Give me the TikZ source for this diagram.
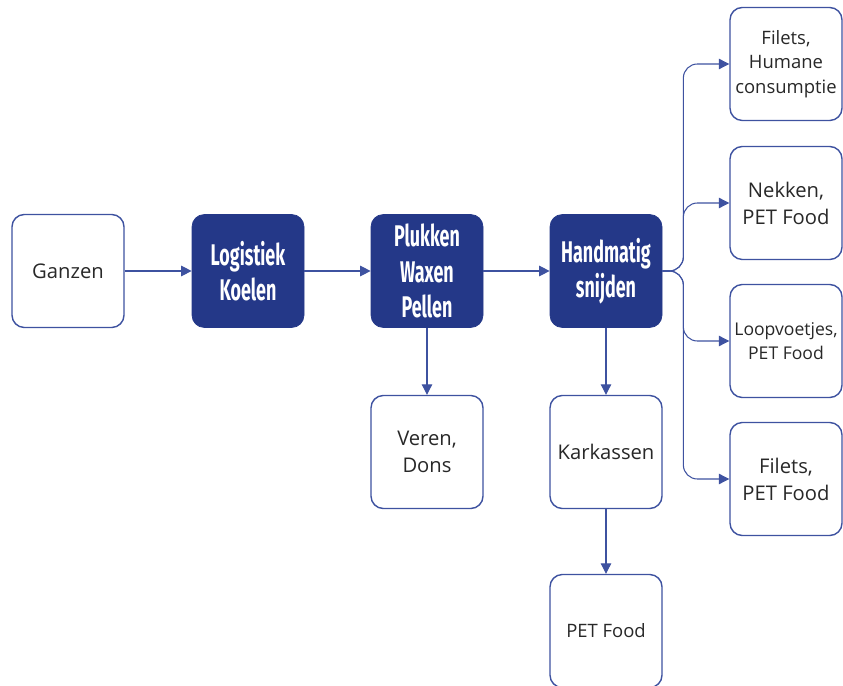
\documentclass[tikz,border=0pt]{standalone}
\usepackage{fontspec}
\setmainfont{Open Sans}
\newfontfamily\condfont[FakeStretch=0.6]{Fira Sans}
\usetikzlibrary{arrows.meta,positioning}

\definecolor{navy}{RGB}{36,56,136}
\definecolor{edge}{RGB}{62,82,160}
\definecolor{txt}{RGB}{40,40,40}

\begin{document}
\begin{tikzpicture}[
			>={Triangle[length=6pt,width=6pt]},
			stage/.style={
				rectangle, rounded corners=7pt,
				draw=navy, fill=navy, text=white,
				minimum width=2.24cm, minimum height=2.26cm,
				align=center, inner sep=2pt,
				font=\condfont\bfseries\fontsize{17}{20}\selectfont
			},
			product/.style={
				rectangle, rounded corners=7pt,
				draw=edge, thick, fill=white, text=txt,
				minimum width=2.24cm, minimum height=2.26cm,
				align=center, inner sep=2pt,
				font=\fontsize{11.5}{15.3}\selectfont
			},
			small/.style={font=\fontsize{10.5}{14}\selectfont},
			arr/.style={->, semithick, edge}
			]
			\useasboundingbox (0,0) rectangle (16.86,-13.72);
			
			%% ── Main chain (y=-5.42) ────────────────────────────────────────
			\node[product] (ganzen) at (1.36,  -5.42) {Ganzen};
			\node[stage]   (logis)  at (4.96,  -5.42) {Logistiek\\Koelen};
			\node[stage]   (pluk)   at (8.54,  -5.42) {Plukken\\Waxen\\Pellen};
			\node[stage]   (snij)   at (12.12, -5.42) {Handmatig\\snijden};
			
			\foreach \a/\b in {ganzen/logis, logis/pluk, pluk/snij}
			\draw[arr] (\a) -- (\b);
			
			%% ── By-products below ───────────────────────────────────────────
			\node[product] (veren)  at (8.54,  -9.04)  {Veren,\\Dons};
			\node[product] (karkas) at (12.12, -9.04)  {Karkassen};
			\node[product, small] (petfood) at (12.12, -12.62) {PET Food};
			
			\draw[arr] (pluk) -- (veren);
			\draw[arr] (snij) -- (karkas);
			\draw[arr] (karkas) -- (petfood);
			
			%% ── Right column / cuts (x=15.72) ───────────────────────────────
			\node[product, small] (filethum) at (15.72, -1.28) {Filets,\\Humane\\consumptie};
			\node[product] (nekken)  at (15.72, -4.06) {Nekken,\\PET Food};
			\node[product, font=\fontsize{10}{14}\selectfont] (loop) at (15.72, -6.82) {Loopvoetjes,\\PET Food};
			\node[product] (filetpet) at (15.72, -9.58) {Filets,\\PET Food};
			
			%% split point right of Handmatig snijden
			\coordinate[right=0.42cm of snij.east] (split);
			
			\foreach \t in {filethum, nekken, loop, filetpet}
			\draw[arr, rounded corners=8pt] (snij.east) -- (split) |- (\t.west);
			
		\end{tikzpicture}
\end{document}
